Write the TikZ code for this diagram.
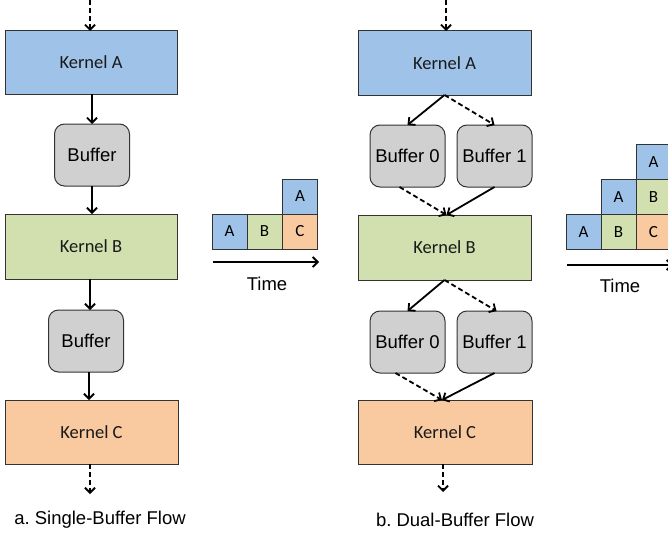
\documentclass[tikz,border=0pt]{standalone}
\usepackage{fontspec}
\setmainfont{Liberation Sans}
\newfontfamily\calib{Carlito}
\usetikzlibrary{arrows.meta}
\frenchspacing
\definecolor{kblue}{HTML}{9FC3E8}
\definecolor{kgreen}{HTML}{D2DFAE}
\definecolor{korange}{HTML}{F9C9A0}
\definecolor{bgray}{HTML}{D0D0D0}
\definecolor{edge}{HTML}{333333}
\begin{document}
\begin{tikzpicture}[x=1pt,y=-1pt,
  kernel/.style={draw=edge,line width=1pt,rectangle,inner sep=0pt,outer sep=0pt,
    font=\calib\fontsize{18.5}{20}\selectfont,text=black!90},
  bufbox/.style={draw=edge,line width=1pt,rectangle,rounded corners=10pt,fill=bgray,
    inner sep=0pt,outer sep=0pt,minimum width=75pt,minimum height=62pt,
    font=\fontsize{18.5}{20}\selectfont},
  cell/.style={draw=edge,line width=1pt,rectangle,inner sep=0pt,outer sep=0pt,
    minimum width=35pt,minimum height=35pt,font=\calib\fontsize{17}{19}\selectfont},
  arr/.style={line width=1.8pt,-{Straight Barb[length=5pt,width=10pt]}},
  darr/.style={arr,dash pattern=on 5pt off 3pt},
  lbl/.style={font=\fontsize{18.5}{20}\selectfont,inner sep=0pt}
]
\useasboundingbox (0,0) rectangle (668,535);
\clip (0,0) rectangle (668,535);

% ---------- left column: single buffer ----------
\node[kernel,fill=kblue,minimum width=172pt,minimum height=63pt] (ka) at (91,62.5) {Kernel A};
\node[bufbox] (b1) at (92,155) {Buffer};
\node[kernel,fill=kgreen,minimum width=172pt,minimum height=65pt] (kb) at (91,246.5) {Kernel B};
\node[bufbox] (b2) at (86,341) {Buffer};
\node[kernel,fill=korange,minimum width=173pt,minimum height=64pt] (kc) at (91.5,432) {Kernel C};
\coordinate (lin) at (90,0);
\coordinate (lout) at (90,494);

\draw[darr] (lin) -- (ka.north -| lin);
\draw[arr] (ka.south -| b1) -- (b1.north);
\draw[arr] (b1.south) -- (kb.north -| b1);
\draw[arr] (kb.south -| 90,0) -- (b2.north -| 90,0);
\draw[arr] (b2.south -| 89,0) -- (kc.north -| 89,0);
\draw[darr] (kc.south -| lout) -- (lout);

\node[lbl] (capa) at (100,520) {a. Single-Buffer Flow};

% left timeline
\node[cell,fill=kblue] (la1) at (229.5,231.5) {A};
\node[cell,fill=kgreen] (lb1) at (264.5,231.5) {B};
\node[cell,fill=korange] (lc1) at (300,231.5) {C};
\node[cell,fill=kblue] (la2) at (300,196.5) {A};
\coordinate (lt0) at (213,262);
\coordinate (lt1) at (319,262);
\draw[arr] (lt0) -- (lt1);
\node[lbl] (ltime) at (267,284) {Time};

% ---------- right column: dual buffer ----------
\node[kernel,fill=kblue,minimum width=173pt,minimum height=64pt] (ka2) at (444.5,63) {Kernel A};
\node[bufbox] (b0t) at (407.5,156) {Buffer 0};
\node[bufbox] (b1t) at (494.5,156) {Buffer 1};
\node[kernel,fill=kgreen,minimum width=173pt,minimum height=65pt] (kb2) at (444.5,247.5) {Kernel B};
\node[bufbox] (b0b) at (407.5,342) {Buffer 0};
\node[bufbox] (b1b) at (494.5,342) {Buffer 1};
\node[kernel,fill=korange,minimum width=174pt,minimum height=64pt] (kc2) at (445,432) {Kernel C};
\coordinate (rin) at (446,0);
\coordinate (rout) at (443,492);

\draw[darr] (rin) -- (ka2.north -| rin);
\draw[arr] (ka2.south) -- (b0t.north);
\draw[darr] (ka2.south) -- (b1t.north);
\draw[darr] ([xshift=-8pt]b0t.south) -- ([xshift=2pt]kb2.north);
\draw[arr] (b1t.south) -- ([xshift=2pt]kb2.north);
\draw[arr] (kb2.south) -- (b0b.north);
\draw[darr] (kb2.south) -- ([xshift=2pt]b1b.north);
\draw[darr] ([xshift=-12pt]b0b.south) -- ([xshift=-3pt]kc2.north);
\draw[arr] (b1b.south) -- ([xshift=-3pt]kc2.north);
\draw[darr] (kc2.south -| rout) -- (rout);

\node[lbl] (capb) at (455,520) {b. Dual-Buffer Flow};

% right timeline
\node[cell,fill=kblue] (ra1) at (583.5,232) {A};
\node[cell,fill=kgreen] (rb1) at (618.5,232) {B};
\node[cell,fill=korange] (rc1) at (653.5,232) {C};
\node[cell,fill=kblue] (ra2) at (618.5,197) {A};
\node[cell,fill=kgreen] (rb2) at (653.5,197) {B};
\node[cell,fill=kblue] (ra3) at (653.5,162) {A};
\coordinate (rt0) at (567,265);
\coordinate (rt1) at (673,265);
\draw[arr] (rt0) -- (rt1);
\node[lbl] (rtime) at (620,286) {Time};
\end{tikzpicture}
\end{document}
